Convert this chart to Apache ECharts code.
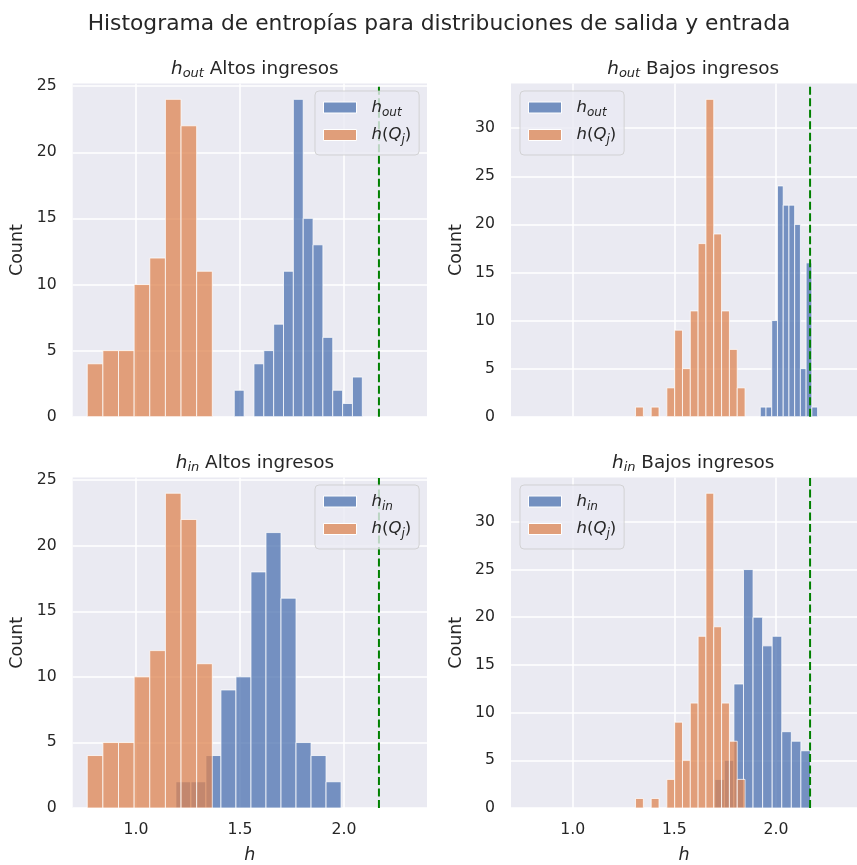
<!DOCTYPE html>
<html>
<head>
<meta charset="utf-8">
<script src="https://cdn.jsdelivr.net/npm/echarts@6/dist/echarts.min.js"></script>
<style>
  html, body { margin: 0; padding: 0; background: #fff; }
  #chart { width: 857px; height: 865px; }
</style>
</head>
<body>
<div id="chart"></div>
<script>
// ---- data -------------------------------------------------------------
const X_TICKS = [1.0, 1.5, 2.0];
const Y_TICKS_ALTOS = [0, 5, 10, 15, 20, 25];
const Y_TICKS_BAJOS = [0, 5, 10, 15, 20, 25, 30];
const H_MAX = 2.168;            // reference entropy (dashed line)

// h(Q_j): same distribution in both rows of each column
const qAltosRange = [0.766, 1.367];
const qAltosCounts = [4, 5, 5, 10, 12, 24, 22, 11];
const qBajosRange = [1.309, 1.848];
const qBajosCounts = [1, 0, 1, 0, 3, 9, 5, 11, 18, 33, 19, 11, 7, 3];

// h_out
const outAltosRange = [1.4726, 2.088];
const outAltosCounts = [2, 0, 4, 5, 7, 11, 24, 15, 13, 6, 2, 1, 3];
const outBajosRange = [1.923, 2.205];
const outBajosCounts = [1, 1, 10, 24, 22, 22, 20, 5, 16, 1];

// h_in
const inAltosRange = [1.192, 1.986];
const inAltosCounts = [2, 2, 4, 9, 10, 18, 21, 16, 5, 4, 2];
const inBajosRange = [1.699, 2.170];
const inBajosCounts = [3, 5, 13, 25, 20, 17, 18, 8, 7, 6];

// ---- styling ----------------------------------------------------------
const FONT = 'DejaVu Sans';
const TXT = '#262626';
const BLUE = '#4c72b0', ORANGE = '#dd8452';
const BLUE_LEG = '#7390c0', ORANGE_LEG = '#e09e7a';
const X_MIN = 0.696, X_MAX = 2.399;

const GW = 354.3, GH = 333.2;
const panels = [
  { left: 72.7, top: 83.5, sub: 'out', grp: 'Altos', hist: [outAltosRange, outAltosCounts], q: [qAltosRange, qAltosCounts], yTicks: Y_TICKS_ALTOS, legLeft: 315, bottomRow: false },
  { left: 511,  top: 83.5, sub: 'out', grp: 'Bajos', hist: [outBajosRange, outBajosCounts], q: [qBajosRange, qBajosCounts], yTicks: Y_TICKS_BAJOS, legLeft: 520, bottomRow: false },
  { left: 72.7, top: 477.5, sub: 'in', grp: 'Altos', hist: [inAltosRange, inAltosCounts], q: [qAltosRange, qAltosCounts], yTicks: Y_TICKS_ALTOS, legLeft: 315, bottomRow: true },
  { left: 511,  top: 477.5, sub: 'in', grp: 'Bajos', hist: [inBajosRange, inBajosCounts], q: [qBajosRange, qBajosCounts], yTicks: Y_TICKS_BAJOS, legLeft: 520, bottomRow: true }
];

const mathRich = (size) => ({
  m: { fontFamily: FONT, fontStyle: 'italic', fontSize: size, color: TXT, lineHeight: 22, verticalAlign: 'middle' },
  n: { fontFamily: FONT, fontSize: size, color: TXT, lineHeight: 22, verticalAlign: 'middle' },
  s: { fontFamily: FONT, fontStyle: 'italic', fontSize: Math.round(size * 0.72), color: TXT, lineHeight: 14, verticalAlign: 'bottom' }
});

const legendLabel = {
  'h_out': '{m|h}{s|out}',
  'h_in': '{m|h}{s|in}',
  'h(Q_j)': '{m|h}{n|(}{m|Q}{s|j}{n|)}'
};

// histogram bars drawn through the axis scales
function histSeries(name, color, range, counts, idx) {
  const n = counts.length;
  const w = (range[1] - range[0]) / n;
  const data = counts.map((c, i) => [range[0] + i * w, range[0] + (i + 1) * w, c]);
  return {
    type: 'custom', name, xAxisIndex: idx, yAxisIndex: idx,
    data, encode: { x: [0, 1], y: 2 },
    itemStyle: { color },
    silent: true,
    renderItem: (params, api) => {
      const c = api.value(2);
      if (!c) return null;
      const p0 = api.coord([api.value(0), 0]);
      const p1 = api.coord([api.value(1), c]);
      return {
        type: 'rect',
        shape: { x: p0[0], y: p1[1], width: p1[0] - p0[0], height: p0[1] - p1[1] },
        style: { fill: color, stroke: '#ffffff', lineWidth: 1, opacity: 0.75 }
      };
    }
  };
}

const grid = [], xAxis = [], yAxis = [], series = [], legend = [];
const titles = [{
  text: 'Histograma de entropías para distribuciones de salida y entrada',
  left: 434, top: 8, textAlign: 'center',
  textStyle: { fontFamily: FONT, fontSize: 21.8, fontWeight: 'normal', color: TXT }
}];

panels.forEach((p, i) => {
  const yMax = Math.max(...p.hist[1], ...p.q[1]) * 1.05;
  grid.push({ left: p.left, top: p.top, width: GW, height: GH, show: true, backgroundColor: '#eaeaf2', borderWidth: 0, containLabel: false });
  xAxis.push({
    type: 'value', gridIndex: i, min: X_MIN, max: X_MAX,
    axisLine: { show: false },
    axisTick: { show: false, customValues: X_TICKS },
    axisLabel: { show: p.bottomRow, customValues: X_TICKS, formatter: v => v.toFixed(1), fontFamily: FONT, fontSize: 15.7, color: TXT, margin: 14 },
    splitLine: { show: true, lineStyle: { color: '#ffffff', width: 1.5 } },
    name: p.bottomRow ? 'h' : '', nameLocation: 'middle', nameGap: 38,
    nameTextStyle: { fontFamily: FONT, fontStyle: 'italic', fontSize: 17.5, color: TXT }
  });
  yAxis.push({
    type: 'value', gridIndex: i, min: 0, max: yMax,
    axisLine: { show: false },
    axisTick: { show: false, customValues: p.yTicks },
    axisLabel: { customValues: p.yTicks, fontFamily: FONT, fontSize: 15.7, color: TXT, margin: 16 },
    splitLine: { show: true, lineStyle: { color: '#ffffff', width: 1.5 } },
    name: 'Count', nameLocation: 'middle', nameGap: 46,
    nameTextStyle: { fontFamily: FONT, fontSize: 17.5, color: TXT }
  });

  const mainName = 'h_' + p.sub;
  series.push(histSeries(mainName, BLUE, p.hist[0], p.hist[1], i));
  series.push(histSeries('h(Q_j)', ORANGE, p.q[0], p.q[1], i));
  series.push({
    type: 'line', name: 'hmax', xAxisIndex: i, yAxisIndex: i, silent: true,
    data: [[H_MAX, 0], [H_MAX, yMax]], symbol: 'none',
    lineStyle: { color: '#008000', width: 2, type: [8, 3.5] }
  });

  titles.push({
    text: '{m|h}{s|' + p.sub + '}{n| ' + p.grp + ' ingresos}',
    left: p.left + GW / 2, top: p.top - 30, textAlign: 'center',
    textStyle: { fontFamily: FONT, fontSize: 18.4, fontWeight: 'normal', color: TXT, rich: mathRich(18.4) }
  });

  legend.push({
    orient: 'vertical', left: p.legLeft, top: p.top + 7.5,
    data: [
      { name: mainName, itemStyle: { color: BLUE_LEG, borderColor: '#fff', borderWidth: 1 } },
      { name: 'h(Q_j)', itemStyle: { color: ORANGE_LEG, borderColor: '#fff', borderWidth: 1 } }
    ],
    icon: 'rect', itemWidth: 33, itemHeight: 11, itemGap: 8,
    padding: [8, 8, 9, 8],
    backgroundColor: 'rgba(234,234,242,0.8)', borderColor: 'rgba(204,204,204,0.8)', borderWidth: 1, borderRadius: 4,
    selectedMode: false,
    formatter: name => legendLabel[name],
    textStyle: { fontFamily: FONT, fontSize: 16.5, color: TXT, padding: [0, 0, 0, 10], rich: mathRich(16.5) }
  });
});

const chart = echarts.init(document.getElementById('chart'), null, { renderer: 'canvas' });
chart.setOption({
  backgroundColor: '#ffffff',
  animation: false,
  title: titles,
  grid, xAxis, yAxis, legend, series
});
</script>
</body>
</html>
